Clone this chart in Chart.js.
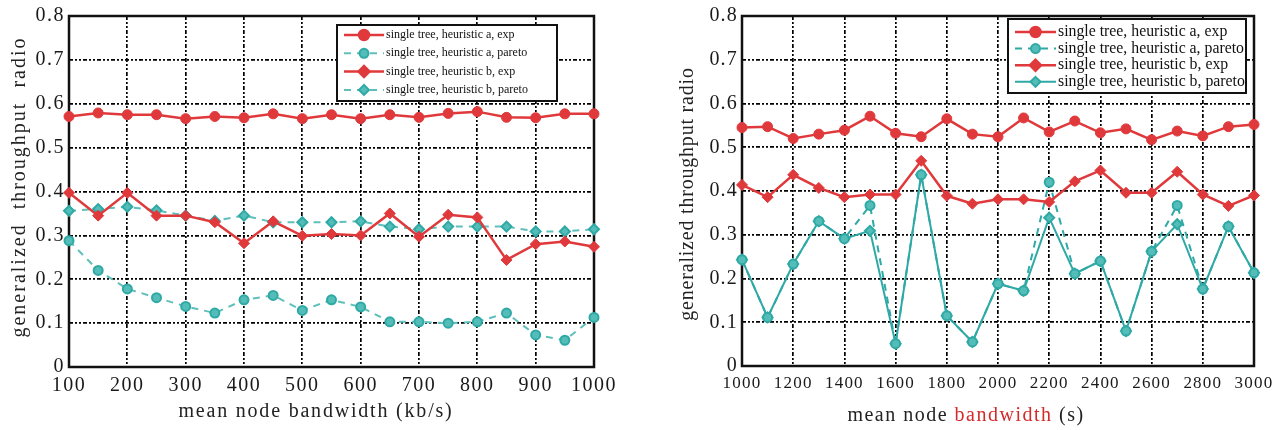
<!DOCTYPE html>
<html>
<head>
<meta charset="utf-8">
<script src="https://cdn.jsdelivr.net/npm/chart.js@4.4.1/dist/chart.umd.min.js"></script>
<style>
    html, body { margin: 0; padding: 0; background: #fff; }
    body { width: 1286px; height: 430px; position: relative; overflow: hidden; }
    .panel { position: absolute; top: 0; height: 430px; }
    #left-panel { left: 0; width: 640px; }
    #right-panel { left: 650px; width: 636px; }
</style>
</head>
<body>
<div class="panel" id="left-panel"><canvas id="leftChart"></canvas></div>
<div class="panel" id="right-panel"><canvas id="rightChart"></canvas></div>
<script>
// Data
const seriesNames = [
    'single tree, heuristic a, exp',
    'single tree, heuristic a, pareto',
    'single tree, heuristic b, exp',
    'single tree, heuristic b, pareto'
];
const yTickLabels = ['0', '0.1', '0.2', '0.3', '0.4', '0.5', '0.6', '0.7', '0.8'];

// left panel: mean node bandwidth (kb/s)
const bandwidthKb = [100, 150, 200, 250, 300, 350, 400, 450, 500, 550, 600, 650, 700, 750, 800, 850, 900, 950, 1000];
const leftAExp    = [0.571, 0.579, 0.575, 0.575, 0.566, 0.571, 0.568, 0.577, 0.566, 0.575, 0.566, 0.575, 0.569, 0.578, 0.582, 0.569, 0.568, 0.577, 0.577];
const leftAPareto = [0.288, 0.220, 0.178, 0.158, 0.138, 0.123, 0.153, 0.163, 0.129, 0.153, 0.137, 0.103, 0.103, 0.100, 0.103, 0.123, 0.073, 0.061, 0.113];
const leftBExp    = [0.397, 0.345, 0.397, 0.345, 0.345, 0.330, 0.282, 0.332, 0.299, 0.303, 0.300, 0.350, 0.297, 0.347, 0.341, 0.244, 0.280, 0.286, 0.274];
const leftBPareto = [0.356, 0.360, 0.365, 0.357, 0.345, 0.333, 0.345, 0.330, 0.330, 0.330, 0.332, 0.320, 0.314, 0.320, 0.320, 0.320, 0.309, 0.309, 0.314];

// right panel: mean node bandwidth (s)
const bandwidthS = [1000, 1100, 1200, 1300, 1400, 1500, 1600, 1700, 1800, 1900, 2000, 2100, 2200, 2300, 2400, 2500, 2600, 2700, 2800, 2900, 3000];
const rightAExp    = [0.545, 0.547, 0.520, 0.530, 0.539, 0.571, 0.532, 0.524, 0.565, 0.530, 0.524, 0.567, 0.535, 0.560, 0.533, 0.542, 0.517, 0.537, 0.526, 0.547, 0.552];
const rightAPareto = [0.243, 0.111, 0.233, 0.331, 0.291, 0.367, 0.051, 0.437, 0.115, 0.055, 0.188, 0.172, 0.420, 0.211, 0.240, 0.080, 0.262, 0.367, 0.176, 0.319, 0.213];
const rightBExp    = [0.414, 0.386, 0.437, 0.407, 0.386, 0.392, 0.392, 0.469, 0.389, 0.371, 0.381, 0.381, 0.375, 0.422, 0.447, 0.396, 0.396, 0.444, 0.392, 0.366, 0.390];
const rightBPareto = [0.243, 0.111, 0.233, 0.331, 0.291, 0.309, 0.051, 0.437, 0.115, 0.055, 0.188, 0.172, 0.339, 0.211, 0.240, 0.080, 0.262, 0.324, 0.176, 0.319, 0.213];

const RED = '#e0393c';
const TEAL = '#2fa9a6';
const TEAL_LIGHT = '#5fc0bb';
const TEAL_FILL = '#54bdb7';
const SERIF = '"Liberation Serif", "DejaVu Serif", serif';
const GRID_DASH = [4, 2, 2, 2, 2, 2];

const toPoints = (xs, ys) => xs.map((x, i) => ({ x: x, y: ys[i] }));

function setSpacing(chart) {
    chart.ctx.letterSpacing = chart.options.plugins.paperFrame.spacing || '0px';
}

// frame, legend and axis titles drawn in the MATLAB look
const paperFrame = {
    id: 'paperFrame',
    beforeUpdate: setSpacing,
    beforeLayout: setSpacing,
    beforeDraw: setSpacing,
    beforeDatasetsDraw(chart) {
        const { ctx, chartArea: a } = chart;
        ctx.save();
        ctx.strokeStyle = '#111';
        ctx.lineWidth = 2.5;
        ctx.strokeRect(a.left, a.top, a.right - a.left, a.bottom - a.top);
        ctx.restore();
    },
    afterDraw(chart, args, o) {
        const { ctx, chartArea: a } = chart;
        ctx.save();

        // legend box
        const lx = a.left + o.legend.dx, ly = a.top + o.legend.dy;
        ctx.fillStyle = '#fff';
        ctx.fillRect(lx, ly, o.legend.w, o.legend.h);
        ctx.strokeStyle = '#111';
        ctx.lineWidth = 2;
        ctx.strokeRect(lx, ly, o.legend.w, o.legend.h);
        ctx.beginPath();
        ctx.rect(lx, ly, o.legend.w, o.legend.h);
        ctx.clip();
        ctx.font = o.legend.font + 'px ' + SERIF;
        ctx.textBaseline = 'middle';
        ctx.letterSpacing = '0px';
        chart.data.datasets.forEach((ds, i) => {
            const y = ly + o.legend.top + i * o.legend.row;
            const x0 = lx + 7, x1 = x0 + o.legend.line;
            ctx.strokeStyle = ds.borderColor;
            ctx.lineWidth = ds.borderWidth;
            ctx.setLineDash(ds.borderDash || []);
            ctx.beginPath();
            ctx.moveTo(x0, y);
            ctx.lineTo(x1, y);
            ctx.stroke();
            ctx.setLineDash([]);
            ctx.fillStyle = ds.pointBackgroundColor;
            ctx.strokeStyle = ds.pointBorderColor;
            Chart.helpers.drawPoint(ctx, {
                pointStyle: ds.pointStyle, rotation: 0,
                radius: ds.pointRadius, borderWidth: ds.pointBorderWidth
            }, (x0 + x1) / 2, y);
            ctx.fillStyle = '#111';
            ctx.fillText(ds.label, x1 + 2, y);
        });
        ctx.restore();

        // axis titles
        ctx.save();
        ctx.fillStyle = '#222';
        ctx.textBaseline = 'middle';
        ctx.font = o.titleSize + 'px ' + SERIF;
        ctx.letterSpacing = o.xSpacing;
        const parts = o.xTitle;
        const total = parts.reduce((s, p) => s + ctx.measureText(p.text).width, 0);
        let x = o.xCenter - total / 2;
        ctx.textAlign = 'left';
        parts.forEach(p => {
            ctx.fillStyle = p.color;
            ctx.fillText(p.text, x, o.xTitleY);
            x += ctx.measureText(p.text).width;
        });
        ctx.fillStyle = '#222';
        ctx.letterSpacing = o.ySpacing;
        ctx.translate(o.yTitleX, o.yTitleY);
        ctx.rotate(-Math.PI / 2);
        ctx.textAlign = 'center';
        ctx.fillText(o.yTitle, 0, 0);
        ctx.restore();
        setSpacing(chart);
    }
};

function makeDatasets(xs, aExp, aPareto, bExp, bPareto, tealLine, bParetoDash) {
    return [
        {
            label: seriesNames[0], data: toPoints(xs, aExp), order: 0,
            borderColor: RED, borderWidth: 2.5, pointStyle: 'circle', pointRadius: 5,
            pointBackgroundColor: RED, pointBorderColor: RED, pointBorderWidth: 1
        },
        {
            label: seriesNames[1], data: toPoints(xs, aPareto), order: 1,
            borderColor: tealLine, borderWidth: 2, borderDash: [7, 6], pointStyle: 'circle', pointRadius: 4.5,
            pointBackgroundColor: TEAL_FILL, pointBorderColor: TEAL, pointBorderWidth: 2
        },
        {
            label: seriesNames[2], data: toPoints(xs, bExp), order: 0,
            borderColor: RED, borderWidth: 2.5, pointStyle: 'rectRot', pointRadius: 5.5,
            pointBackgroundColor: RED, pointBorderColor: RED, pointBorderWidth: 1
        },
        {
            label: seriesNames[3], data: toPoints(xs, bPareto), order: 1,
            borderColor: tealLine, borderWidth: 2, borderDash: bParetoDash, pointStyle: 'rectRot', pointRadius: 5,
            pointBackgroundColor: TEAL_FILL, pointBorderColor: TEAL, pointBorderWidth: 2
        }
    ].map(d => Object.assign(d, { clip: false, tension: 0, pointHoverRadius: d.pointRadius }));
}

function makeOptions(cfg) {
    return {
        responsive: true,
        maintainAspectRatio: false,
        animation: false,
        layout: { padding: { top: cfg.padTop, right: cfg.padRight, left: 0, bottom: 0 } },
        plugins: {
            legend: { display: false },
            tooltip: { enabled: false },
            paperFrame: cfg.frame
        },
        scales: {
            x: {
                type: 'linear', min: cfg.xMin, max: cfg.xMax,
                afterFit: (s) => { s.height = cfg.xAxisHeight; },
                ticks: {
                    stepSize: cfg.xStep, padding: 7, color: '#1a1a1a',
                    font: { family: SERIF, size: cfg.xTickSize },
                    callback: (v) => String(v)
                },
                grid: { color: '#000', lineWidth: 1.7, drawTicks: false },
                border: { display: false, dash: GRID_DASH }
            },
            y: {
                min: 0, max: 0.8,
                afterFit: (s) => { s.width = cfg.yAxisWidth; },
                ticks: {
                    stepSize: 0.1, padding: 4, color: '#1a1a1a',
                    font: { family: SERIF, size: cfg.yTickSize },
                    callback: (v, i) => yTickLabels[i]
                },
                grid: { color: '#000', lineWidth: 1.7, drawTicks: false },
                border: { display: false, dash: GRID_DASH }
            }
        }
    };
}

new Chart(document.getElementById('leftChart'), {
    type: 'line',
    data: { datasets: makeDatasets(bandwidthKb, leftAExp, leftAPareto, leftBExp, leftBPareto, TEAL_LIGHT, [7, 6]) },
    options: makeOptions({
        padTop: 14, padRight: 46, xAxisHeight: 63, yAxisWidth: 69,
        xMin: 100, xMax: 1000, xStep: 100, xTickSize: 20, yTickSize: 20,
        frame: {
            spacing: '1.5px',
            legend: { dx: 268, dy: 9, w: 220, h: 76, top: 10, row: 18.3, line: 40, font: 12 },
            titleSize: 20, xSpacing: '1.8px', ySpacing: '2px',
            xTitle: [{ text: 'mean node bandwidth (kb/s)', color: '#222' }],
            xCenter: 316, xTitleY: 412,
            yTitle: 'generalized  throughput  radio', yTitleX: 20, yTitleY: 187
        }
    }),
    plugins: [paperFrame]
});

new Chart(document.getElementById('rightChart'), {
    type: 'line',
    data: { datasets: makeDatasets(bandwidthS, rightAExp, rightAPareto, rightBExp, rightBPareto, TEAL, []) },
    options: makeOptions({
        padTop: 12, padRight: 32, xAxisHeight: 64, yAxisWidth: 92,
        xMin: 1000, xMax: 3000, xStep: 200, xTickSize: 17, yTickSize: 20,
        frame: {
            spacing: '1.2px',
            legend: { dx: 266, dy: 3, w: 238, h: 74, top: 13, row: 16.6, line: 41, font: 15.8 },
            titleSize: 20, xSpacing: '1.5px', ySpacing: '0.8px',
            xTitle: [
                { text: 'mean node ', color: '#222' },
                { text: 'bandwidth', color: '#d42a2a' },
                { text: ' (s)', color: '#222' }
            ],
            xCenter: 316, xTitleY: 416,
            yTitle: 'generalized throughput radio', yTitleX: 38, yTitleY: 194
        }
    }),
    plugins: [paperFrame]
});
</script>
</body>
</html>
